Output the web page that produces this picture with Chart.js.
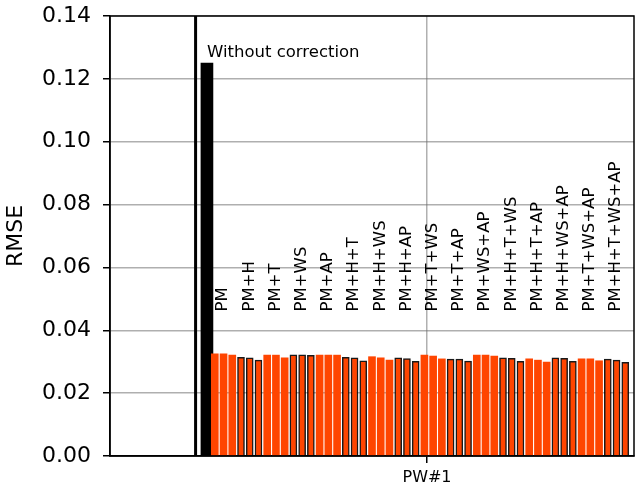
<!DOCTYPE html>
<html>
<head>
<meta charset="UTF-8">
<title>RMSE PW#1</title>
<script src="https://cdn.jsdelivr.net/npm/chart.js@4/dist/chart.umd.min.js"></script>
<style>
  html, body { margin: 0; padding: 0; background: #fff; }
  #wrap { width: 635px; height: 486px; }
</style>
</head>
<body>
<div id="wrap"><canvas id="myChart"></canvas></div>

<script>
  // combinations, one group of three bars each
  const combos = ['PM', 'PM+H', 'PM+T', 'PM+WS', 'PM+AP', 'PM+H+T', 'PM+H+WS', 'PM+H+AP',
    'PM+T+WS', 'PM+T+AP', 'PM+WS+AP', 'PM+H+T+WS', 'PM+H+T+AP', 'PM+H+WS+AP', 'PM+T+WS+AP', 'PM+H+T+WS+AP'];
  // first, second and third bar of every group
  const rmseA = [0.0325, 0.0314, 0.0321, 0.0322, 0.0321, 0.0314, 0.0316, 0.0312, 0.0321, 0.0308, 0.0321, 0.0312, 0.0309, 0.0312, 0.0309, 0.0308];
  const rmseB = [0.0325, 0.0312, 0.0321, 0.0322, 0.0321, 0.0312, 0.0312, 0.0310, 0.0318, 0.0308, 0.0321, 0.0311, 0.0305, 0.0311, 0.0309, 0.0305];
  const rmseC = [0.0321, 0.0305, 0.0312, 0.0320, 0.0321, 0.0303, 0.0305, 0.0301, 0.0309, 0.0302, 0.0318, 0.0301, 0.0299, 0.0301, 0.0303, 0.0298];
  const rmseRaw = 0.125;
  const rawLabel = 'Without correction';
  const yTicks = [0, 0.02, 0.04, 0.06, 0.08, 0.10, 0.12, 0.14];
  const xTickLabels = ['PW#1'];

  // layout in bar-slot units
  const firstBarX = 12;
  const rawBarX = 11.1;
  const dividerX = 9.8;
  const pwTickX = 36.3;
  const comboLabelY = 0.046;
  const rawLabelY = 0.127;

  let plain = [], edged = [];
  for (let g = 0; g < combos.length; g++) {
    let vals = [rmseA[g], rmseB[g], rmseC[g]];
    for (let k = 0; k < 3; k++) {
      let pt = {x: firstBarX + g * 3 + k, y: vals[k]};
      if (g % 2 == 0) plain.push(pt); else edged.push(pt);
    }
  }

  const font = "'DejaVu Sans', sans-serif";

  const extras = {
    id: 'extras',
    afterDatasetsDraw(chart) {
      const ctx = chart.ctx;
      const xs = chart.scales.x, ys = chart.scales.y;
      const a = chart.chartArea;
      ctx.save();
      // divider line
      ctx.strokeStyle = '#000';
      ctx.lineWidth = 3;
      let dx = xs.getPixelForValue(dividerX);
      ctx.beginPath();
      ctx.moveTo(dx, a.top);
      ctx.lineTo(dx, a.bottom);
      ctx.stroke();
      // text for raw bar
      ctx.fillStyle = '#000';
      ctx.font = '16.5px ' + font;
      ctx.textAlign = 'left';
      ctx.textBaseline = 'alphabetic';
      ctx.fillText(rawLabel, xs.getPixelForValue(rawBarX), ys.getPixelForValue(rawLabelY));
      // group labels
      ctx.textBaseline = 'top';
      for (let g = 0; g < combos.length; g++) {
        ctx.save();
        ctx.translate(xs.getPixelForValue(firstBarX + g * 3), ys.getPixelForValue(comboLabelY));
        ctx.rotate(-Math.PI / 2);
        ctx.fillText(combos[g], 0, 0);
        ctx.restore();
      }
      ctx.restore();
    },
    afterDraw(chart) {
      const ctx = chart.ctx;
      const a = chart.chartArea;
      ctx.save();
      ctx.strokeStyle = '#000';
      ctx.lineWidth = 1.5;
      ctx.strokeRect(a.left, a.top, a.right - a.left, a.bottom - a.top);
      ctx.restore();
    }
  };

  new Chart('myChart', {
    type: 'bar',
    data: {
      datasets: [
        {
          data: plain,
          backgroundColor: '#ff4500',
          borderWidth: 0,
          barThickness: 7
        },
        {
          data: edged,
          backgroundColor: '#ff4500',
          borderColor: 'rgba(0,0,0,0.9)',
          borderWidth: 1.5,
          barThickness: 7
        },
        {
          data: [{x: rawBarX, y: rmseRaw}],
          backgroundColor: '#000',
          borderWidth: 0,
          barThickness: 12
        }
      ]
    },
    options: {
      responsive: true,
      maintainAspectRatio: false,
      animation: false,
      layout: {padding: {top: 16, right: 1, left: 0, bottom: 0}},
      plugins: {legend: {display: false}, tooltip: {enabled: false}},
      scales: {
        x: {
          type: 'linear',
          stacked: true,
          offset: false,
          min: 0,
          max: 60,
          afterBuildTicks: function(s) { s.ticks = [{value: pwTickX}]; },
          afterFit: function(s) { s.height = 30; s.paddingLeft = 0; s.paddingRight = 0; },
          ticks: {
            color: '#000',
            font: {family: font, size: 16},
            padding: 5,
            maxRotation: 0,
            callback: function(v, i) { return xTickLabels[i]; }
          },
          grid: {offset: false, color: '#b0b0b0', lineWidth: 1.5, tickColor: '#000', tickLength: 7, tickWidth: 1.5},
          border: {display: true, color: '#000', width: 1.5}
        },
        y: {
          stacked: true,
          min: 0,
          max: 0.14,
          z: 1,
          afterBuildTicks: function(s) { s.ticks = yTicks.map(v => ({value: v})); },
          afterFit: function(s) { s.width = 110; s.paddingTop = 0; s.paddingBottom = 0; },
          ticks: {
            color: '#000',
            font: {family: font, size: 22},
            padding: 12,
            callback: function(v) { return v.toFixed(2); }
          },
          title: {
            display: true,
            text: 'RMSE',
            color: '#000',
            font: {family: font, size: 22},
            padding: {top: 3, bottom: 0}
          },
          grid: {color: 'rgba(110,110,110,0.55)', lineWidth: 1.5, tickColor: '#000', tickLength: 7, tickWidth: 1.5},
          border: {display: true, color: '#000', width: 1.5}
        }
      }
    },
    plugins: [extras]
  });
</script>
</body>
</html>
